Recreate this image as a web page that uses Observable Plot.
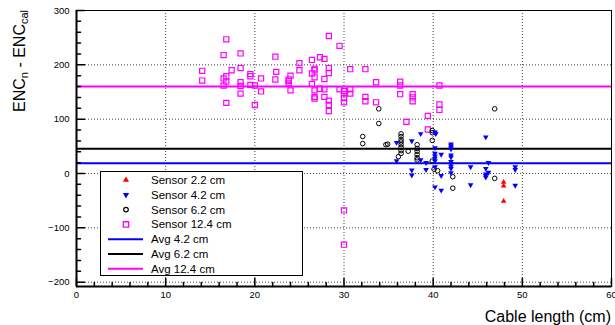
<!DOCTYPE html>
<html><head><meta charset="utf-8">
<script src="https://cdn.jsdelivr.net/npm/d3@7"></script>
<script src="https://cdn.jsdelivr.net/npm/@observablehq/plot@0.6"></script>
<style>body{margin:0;background:#fff} svg{display:block}</style>
</head><body><div id="chart"></div>
<script>
// ---- data (x = cable length in cm, y = ENC_n - ENC_cal) ----
const sensor22 = [[47.9,-16],[47.9,-23],[47.9,-51]];
const sensor42 = [[35.9,57],[35.9,23],[37.6,60],[37.6,6],[37.6,-3],[38.6,73],[38.6,25],[39.2,20],[39.2,7],
  [40.2,76],[40.3,73],[40.2,47],[40.2,37],[40.2,32],[40.2,28],[40.2,23],[40.2,12],[40.2,-25],
  [40.9,35],[40.9,-4],[40.9,-31],[42.0,54],[42.0,51],[42.0,48],[42.0,45],[42.0,34],[42.0,30],
  [42.0,22],[42.0,18],[42.0,13],[42.0,9],[42.0,1],[44.2,12],[44.2,-21],[45.9,67],[46.2,20],
  [45.9,9],[46.2,2],[45.9,-1],[45.9,-4],[45.9,-7],[49.2,12],[49.2,7],[49.2,-22]];
const sensor62 = [[32.1,68],[32.1,55],[33.9,119],[33.9,92],[34.9,54],[34.7,53],[36.4,73],[36.4,68],
  [36.4,62],[36.4,58],[36.4,53],[36.4,48],[36.4,42],[36.4,37],[36.1,31],[37.2,41],[38.2,53],
  [38.2,46],[38.2,41],[38.2,35],[38.2,29],[38.2,25],[39.9,79],[39.9,75],[39.9,61],[39.9,23],
  [40.1,8],[40.5,5],[42.2,-6],[42.2,-27],[46.9,119],[46.9,-9]];
const sensor124 = [[14.1,189],[14.1,171],[16.5,218],[16.8,247],[16.8,179],[16.5,175],[16.8,169],
  [16.5,162],[16.8,130],[17.4,190],[18.4,221],[18.4,194],[18.4,168],[18.4,161],[18.4,147],
  [19.5,183],[19.5,179],[19.5,163],[20.0,162],[20.0,126],[20.7,175],[20.7,151],[22.3,215],
  [22.4,187],[22.3,173],[23.8,173],[23.8,170],[23.8,166],[24.0,180],[24.0,153],[25.0,203],
  [25.0,190],[26.4,209],[26.7,193],[26.7,190],[26.4,184],[26.7,177],[26.4,165],[26.7,153],
  [26.7,141],[26.7,138],[27.3,214],[27.8,211],[27.8,174],[27.3,156],[27.8,155],[27.8,141],
  [28.3,253],[28.3,194],[28.3,185],[28.3,134],[28.3,126],[28.3,115],[29.5,235],[29.5,155],
  [30.0,152],[30.0,146],[30.0,139],[30.0,131],[30.7,192],[30.7,155],[30.7,147],[30.0,-68],
  [30.0,-131],[32.4,192],[32.4,141],[32.4,133],[33.6,168],[33.6,131],[36.3,169],[36.3,162],
  [36.3,146],[37.0,95],[37.7,146],[37.7,140],[37.7,133],[39.4,106],[39.4,81],[40.7,162],
  [40.7,127],[40.7,117]];
const avgNames = ["Avg 4.2 cm", "Avg 6.2 cm", "Avg 12.4 cm"];
const avgValues = [19, 45.5, 160];
const avgColors = ["#0000ff", "#000000", "#ff00ff"];
const sensorNames = ["Sensor 2.2 cm", "Sensor 4.2 cm", "Sensor 6.2 cm", "Sensor 12.4 cm"];
const xMajor = [0, 10, 20, 30, 40, 50, 60];
const xMinor = [2,4,6,8,12,14,16,18,22,24,26,28,32,34,36,38,42,44,46,48,52,54,56,58];
const yMajor = [-200, -100, 0, 100, 200, 300];
const yMinor = [-180,-160,-140,-120,-80,-60,-40,-20,20,40,60,80,120,140,160,180,220,240,260,280];
const xDomain = [0, 60];
const yDomain = [-208, 300];
const xTitle = "Cable length (cm)";

const sqrt3 = Math.sqrt(3);
const downTriangle = {draw(ctx, size) {
  const y = -Math.sqrt(size / (sqrt3 * 3));
  ctx.moveTo(0, -2 * y); ctx.lineTo(-sqrt3 * y, y); ctx.lineTo(sqrt3 * y, y); ctx.closePath();
}};
const tickShape = {draw(ctx, l) { ctx.moveTo(0, 0); ctx.lineTo(0, -l); }};
const font = "'Liberation Sans', Arial, Helvetica, sans-serif";
const grid = {stroke: "#000", strokeOpacity: 0.75, strokeDasharray: "1,2", strokeWidth: 1};

const plot = Plot.plot({
  width: 615, height: 325,
  marginLeft: 76, marginRight: 4, marginTop: 10, marginBottom: 39,
  x: {domain: xDomain, axis: null},
  y: {domain: yDomain, axis: null},
  style: {fontFamily: font, background: "#fff"},
  marks: [
    Plot.gridX(xMajor.slice(1, -1), grid),
    Plot.gridY(yMajor.slice(0, -1), grid),
    ...avgValues.map((v, i) => Plot.ruleY([v], {stroke: avgColors[i], strokeWidth: 2})),
    Plot.dot(sensor124, {x: d => d[0], y: d => d[1], symbol: "square", r: 2.9, stroke: "#ff00ff", strokeWidth: 1.2, fill: "none"}),
    Plot.dot(sensor62, {x: d => d[0], y: d => d[1], symbol: "circle", r: 2.3, stroke: "#000", strokeWidth: 1, fill: "none"}),
    Plot.dot(sensor42, {x: d => d[0], y: d => d[1], symbol: downTriangle, r: 2.1, fill: "#0000ff", stroke: "none"}),
    Plot.dot(sensor22, {x: d => d[0], y: d => d[1], symbol: "triangle", r: 2.1, fill: "#ff0000", stroke: "none"}),
    Plot.vector(yMajor, {y: d => d, frameAnchor: "left", rotate: 90, length: 8, anchor: "start", shape: tickShape, stroke: "#000"}),
    Plot.vector(yMinor, {y: d => d, frameAnchor: "left", rotate: 90, length: 4, anchor: "start", shape: tickShape, stroke: "#000"}),
    Plot.vector(xMajor, {x: d => d, frameAnchor: "bottom", length: 8, anchor: "start", shape: tickShape, stroke: "#000"}),
    Plot.vector(xMinor, {x: d => d, frameAnchor: "bottom", length: 4, anchor: "start", shape: tickShape, stroke: "#000"}),
    Plot.frame({stroke: "#000", strokeWidth: 1}),
    Plot.ruleX([xDomain[0]], {stroke: "#000", strokeWidth: 2}),
    Plot.ruleY([yDomain[0]], {stroke: "#000", strokeWidth: 2}),
    Plot.axisX(xMajor, {tickSize: 0, tickPadding: 5, fontSize: 9.5, fill: "#000", label: null}),
    Plot.axisY(yMajor, {tickSize: 0, tickPadding: 7, fontSize: 9.5, fill: "#000", label: null})
  ]
});

const svg = d3.select(plot);
// axis titles
svg.append("text").attr("x", 611).attr("y", 322).attr("text-anchor", "end")
  .attr("font-family", font).attr("font-size", 16).attr("fill", "#000").text(xTitle);
const yt = svg.append("text").attr("transform", "translate(25,10) rotate(-90)").attr("text-anchor", "end")
  .attr("font-family", font).attr("font-size", 16).attr("fill", "#000");
yt.append("tspan").text("ENC");
yt.append("tspan").attr("dy", 3).attr("font-size", 11).text("n");
yt.append("tspan").attr("dy", -3).text(" - ENC");
yt.append("tspan").attr("dy", 3).attr("font-size", 11).text("cal");

// legend
const lg = svg.append("g").attr("font-family", font).attr("font-size", 11.5).attr("text-anchor", "start");
lg.append("rect").attr("x", 100.5).attr("y", 171.5).attr("width", 202).attr("height", 104)
  .attr("fill", "#fff").attr("stroke", "#000").attr("stroke-width", 1);
const rowY = (i) => 180 + i * 14.8;
const mx = 126;
const sym = (type, r) => d3.symbol(type, r * r * Math.PI)();
lg.append("path").attr("transform", `translate(${mx},${rowY(0)})`).attr("d", sym(d3.symbolTriangle, 2.3)).attr("fill", "#ff0000");
lg.append("path").attr("transform", `translate(${mx},${rowY(1)})`).attr("d", sym(downTriangle, 2.3)).attr("fill", "#0000ff");
lg.append("path").attr("transform", `translate(${mx},${rowY(2)})`).attr("d", sym(d3.symbolCircle, 2.3)).attr("fill", "none").attr("stroke", "#000").attr("stroke-width", 1.2);
lg.append("path").attr("transform", `translate(${mx},${rowY(3)})`).attr("d", sym(d3.symbolSquare, 3)).attr("fill", "none").attr("stroke", "#ff00ff").attr("stroke-width", 1.3);
avgNames.forEach((n, i) => {
  lg.append("line").attr("x1", 108).attr("x2", 143).attr("y1", rowY(4 + i)).attr("y2", rowY(4 + i))
    .attr("stroke", avgColors[i]).attr("stroke-width", 2);
});
[...sensorNames, ...avgNames].forEach((n, i) => {
  lg.append("text").attr("x", 151).attr("y", rowY(i)).attr("dy", "0.35em").attr("fill", "#000").text(n);
});

document.getElementById("chart").appendChild(plot);
</script>
</body></html>
